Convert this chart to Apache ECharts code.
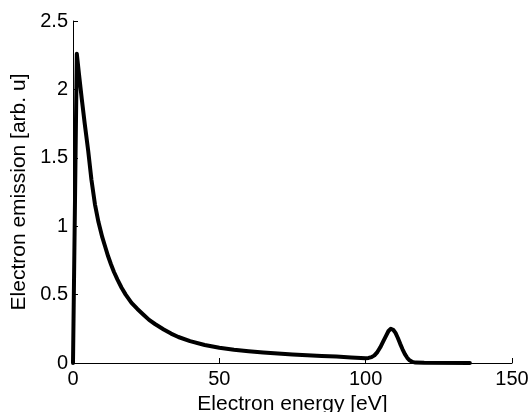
<!DOCTYPE html>
<html>
<head>
<meta charset="utf-8">
<script src="https://cdn.jsdelivr.net/npm/echarts@6/dist/echarts.min.js"></script>
<style>
  html, body { margin: 0; padding: 0; background: #fff; }
  #chart { width: 531px; height: 412px; }
</style>
</head>
<body>
<div id="chart"></div>
<script>
// Electron emission spectrum: secondary-electron cascade plus an Auger-like peak
var energy = [0, 1.3, 2, 3, 4, 5.2, 6.3, 7.5, 8.7, 10, 11, 12, 13, 14, 15.2, 16.6, 18, 20, 22, 24, 26, 28, 31, 33.5, 36,
              40, 45, 50, 55, 60, 65, 70, 75, 80, 85, 90, 95, 100,
              101, 102, 103, 104, 105, 106, 107, 107.8, 108.6, 109.4, 110.2, 111, 111.8, 112.6, 113.4, 114.2, 115, 116, 117, 120, 135.6];
var emission = [0, 2.26, 2.12, 1.93, 1.75, 1.55, 1.34, 1.16, 1.03, 0.92, 0.85, 0.78, 0.72, 0.665, 0.61, 0.55, 0.50, 0.44, 0.395, 0.355, 0.315, 0.285, 0.245, 0.215, 0.19,
                0.16, 0.132, 0.112, 0.097, 0.086, 0.077, 0.07, 0.063, 0.057, 0.052, 0.047, 0.041, 0.035,
                0.037, 0.043, 0.056, 0.08, 0.115, 0.158, 0.2, 0.234, 0.25, 0.243, 0.22, 0.183, 0.14, 0.1, 0.065, 0.038, 0.02, 0.008, 0.003, 0.001, 0];
var xTicks = [0, 50, 100, 150];
var yTicks = [0, 0.5, 1, 1.5, 2, 2.5];

var points = energy.map(function (e, i) { return [e, emission[i]]; });
var font = 'Liberation Sans, Arial, Helvetica, sans-serif';

var chart = echarts.init(document.getElementById('chart'), null, { renderer: 'canvas' });
chart.setOption({
  animation: false,
  backgroundColor: '#ffffff',
  grid: { left: 73, right: 19, top: 21, bottom: 49, containLabel: false, outerBoundsMode: 'none' },
  xAxis: {
    type: 'value',
    min: xTicks[0],
    max: xTicks[xTicks.length - 1],
    interval: xTicks[1] - xTicks[0],
    name: 'Electron energy [eV]',
    nameLocation: 'middle',
    nameGap: 31,
    nameTextStyle: { color: '#000', fontFamily: font, fontSize: 21 },
    axisLine: { show: true, lineStyle: { color: '#000', width: 1 } },
    axisTick: { show: true, inside: true, length: 5, lineStyle: { color: '#000', width: 1 } },
    axisLabel: { color: '#000', fontFamily: font, fontSize: 20, margin: 6 },
    splitLine: { show: false }
  },
  yAxis: {
    type: 'value',
    min: yTicks[0],
    max: yTicks[yTicks.length - 1],
    interval: yTicks[1] - yTicks[0],
    name: 'Electron emission [arb. u]',
    nameLocation: 'middle',
    nameGap: 43,
    nameTextStyle: { color: '#000', fontFamily: font, fontSize: 21 },
    axisLine: { show: true, lineStyle: { color: '#000', width: 1 } },
    axisTick: { show: true, inside: true, length: 5, lineStyle: { color: '#000', width: 1 } },
    axisLabel: { color: '#000', fontFamily: font, fontSize: 20, margin: 5 },
    splitLine: { show: false }
  },
  series: [{
    type: 'line',
    data: points,
    showSymbol: false,
    smooth: false,
    lineStyle: { color: '#000', width: 4, cap: 'round', join: 'round' }
  }]
});
</script>
</body>
</html>
